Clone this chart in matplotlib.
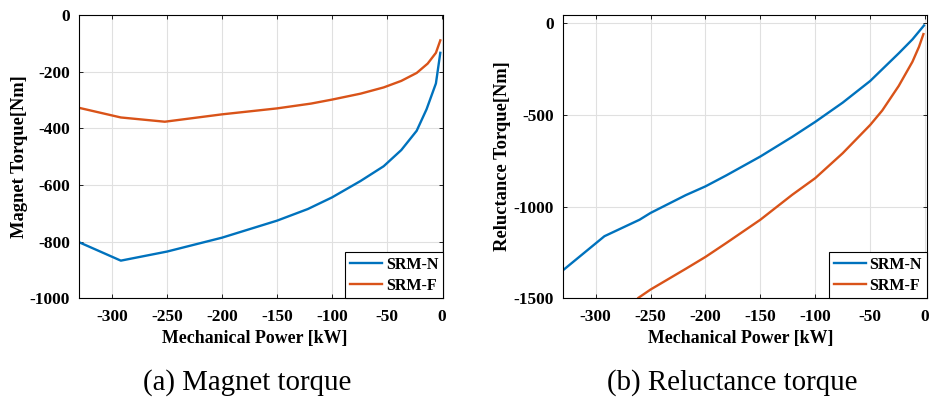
import matplotlib
matplotlib.use("Agg")
import matplotlib.pyplot as plt

plt.rcParams['font.family'] = ['Liberation Serif', 'DejaVu Serif']
plt.rcParams['axes.unicode_minus'] = False

# Magnet torque data
mag_power_n = [-330, -292, -250, -200, -150, -122, -100, -74, -53, -37, -23, -14, -5.5, -1.5]
mag_torque_n = [-802, -867, -835, -786, -726, -685, -644, -586, -534, -477, -409, -333, -242, -134]
mag_power_f = [-330, -292, -252, -200, -150, -119, -100, -74, -53, -37, -23, -13, -5.5, -1.5]
mag_torque_f = [-328, -362, -377, -351, -330, -313, -299, -278, -256, -233, -205, -172, -134, -90]

# Reluctance torque data
rel_power_n = [-330, -292, -260, -250, -218, -200, -181, -150, -121, -100, -75, -50, -39, -24, -11.5, -1]
rel_torque_n = [-1348, -1161, -1071, -1034, -937, -889, -829, -726, -619, -537, -432, -314, -250, -163, -87, -11]
rel_power_f = [-261, -250, -218, -200, -181, -150, -121, -100, -75, -50, -39, -24, -11.5, -5.5, -1.5]
rel_torque_f = [-1497, -1452, -1339, -1274, -1198, -1071, -935, -844, -708, -554, -475, -341, -209, -127, -58]

labels = ['SRM-N', 'SRM-F']
colors = ['#0072BD', '#D95319']
xticks = [-300, -250, -200, -150, -100, -50, 0]

fig = plt.figure(figsize=(9.31, 4.01), dpi=100)
ax1 = fig.add_axes([0.0849, 0.256, 0.391, 0.707])
ax2 = fig.add_axes([0.6044, 0.256, 0.391, 0.707])

ax1.plot(mag_power_n, mag_torque_n, color=colors[0], lw=1.7, label=labels[0])
ax1.plot(mag_power_f, mag_torque_f, color=colors[1], lw=1.7, label=labels[1])
ax1.set_xlim(-330, 1)
ax1.set_ylim(-1000, 0)
ax1.set_yticks([0, -200, -400, -600, -800, -1000])
ax1.set_ylabel('Magnet Torque[Nm]', fontsize=13.3, fontweight='bold', labelpad=1)

ax2.plot(rel_power_n, rel_torque_n, color=colors[0], lw=1.7, label=labels[0])
ax2.plot(rel_power_f, rel_torque_f, color=colors[1], lw=1.7, label=labels[1])
ax2.set_xlim(-330, 1.5)
ax2.set_ylim(-1500, 47)
ax2.set_yticks([0, -500, -1000, -1500])
ax2.set_ylabel('Reluctance Torque[Nm]', fontsize=13.3, fontweight='bold', labelpad=2)

for ax, lx in ((ax1, 0.482), (ax2, 0.49)):
    ax.set_xticks(xticks)
    ax.grid(True, color='#e0e0e0', lw=0.8)
    ax.set_axisbelow(True)
    ax.tick_params(direction='in', top=True, right=True, labelsize=12.5, length=3, width=0.6)
    ax.tick_params(axis='x', pad=8)
    ax.tick_params(axis='y', pad=6.5)
    for lab in ax.get_xticklabels() + ax.get_yticklabels():
        lab.set_fontweight('bold')
    for s in ax.spines.values():
        s.set_linewidth(0.8)
    ax.set_xlabel('Mechanical Power [kW]', fontsize=12.9, fontweight='bold', labelpad=5)
    ax.xaxis.set_label_coords(lx, -0.112)
    leg = ax.legend(loc='lower right', fancybox=False, edgecolor='black', framealpha=1,
                    prop={'weight': 'bold', 'size': 11.5}, borderaxespad=0,
                    handlelength=2.0, borderpad=0.3, labelspacing=0.3, handletextpad=0.25,
                    handleheight=0.6)
    leg.get_frame().set_linewidth(0.8)

fig.text(0.2653, 0.045, '(a) Magnet torque', ha='center', va='center', fontsize=20.8)
fig.text(0.786, 0.045, '(b) Reluctance torque', ha='center', va='center', fontsize=20.8)

fig.savefig('out.png', dpi=100)
